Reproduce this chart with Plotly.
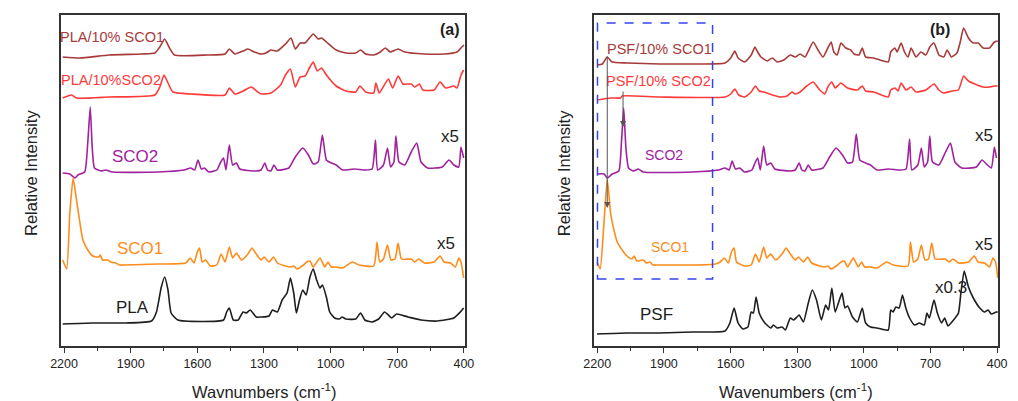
import plotly.graph_objects as go

# ---------------- data (wavenumber cm-1, relative intensity, stacked a.u.) ----------------
TICKS = [2200, 1900, 1600, 1300, 1000, 700, 400]
MINOR_TICKS = [2050, 1750, 1450, 1150, 850, 550]

# ---- panel (a) ----
pla_sco1_w = [2206, 2129, 1997, 1850, 1791, 1769, 1747, 1725, 1703, 1556, 1475, 1456, 1431, 1394, 1372, 1343,
              1313, 1291, 1269, 1240, 1203, 1178, 1159, 1137, 1115, 1078, 1056, 1041, 1019, 975, 931, 887, 865,
              842, 806, 776, 754, 732, 696, 666, 578, 489, 431, 409, 400]
pla_sco1_i = [289, 288, 291, 292, 293, 299, 307, 298, 291, 291, 292, 297, 292, 295, 297, 294,
              292, 293, 296, 295, 302, 308, 297, 303, 303, 312, 307, 308, 304, 296, 293, 293, 296,
              292, 291, 294, 298, 294, 297, 294, 292, 292, 294, 299, 301]

pla_sco2_w = [2206, 2166, 2144, 1997, 1791, 1769, 1750, 1732, 1710, 1630, 1475, 1456, 1431, 1394, 1357, 1328,
              1313, 1269, 1225, 1203, 1181, 1159, 1137, 1115, 1093, 1078, 1060, 1041, 1019, 975, 931, 887, 868,
              842, 806, 796, 781, 740, 721, 696, 674, 637, 622, 600, 585, 534, 507, 482, 445, 431, 413, 401]
pla_sco2_i = [248, 251, 248, 249, 251, 259, 271, 263, 254, 252, 251, 258, 252, 255, 259, 254,
              252, 253, 261, 271, 277, 259, 269, 270, 279, 284, 275, 278, 271, 260, 255, 254, 260,
              254, 253, 263, 253, 267, 258, 270, 262, 262, 259, 262, 256, 256, 264, 258, 260, 258, 271, 276]

sco2_a_w = [2206, 2174, 2151, 2137, 2107, 2093, 2082, 2073, 2063, 2034, 2012, 1982, 1776, 1659, 1630, 1612,
            1597, 1582, 1568, 1548, 1512, 1497, 1482, 1471, 1456, 1441, 1424, 1409, 1335, 1313, 1296, 1284,
            1269, 1255, 1240, 1188, 1159, 1125, 1100, 1078, 1056, 1037, 1019, 997, 975, 946, 894, 842, 813,
            798, 788, 762, 744, 730, 715, 706, 692, 666, 637, 612, 593, 563, 497, 467, 445, 423, 413, 401]
sco2_a_i = [173, 172, 168, 171, 174, 204, 239, 198, 178, 175, 176, 174, 174, 176, 178, 176,
            186, 177, 178, 174, 176, 183, 188, 176, 201, 181, 183, 177, 175, 176, 183, 176,
            175, 181, 176, 178, 189, 198, 191, 182, 184, 211, 186, 183, 181, 176, 177, 176, 177,
            206, 176, 181, 198, 179, 184, 210, 184, 181, 194, 203, 184, 178, 179, 186, 181, 179, 199, 188]

sco1_a_w = [2206, 2188, 2174, 2159, 2144, 2129, 2115, 2093, 2071, 2044, 2037, 2027, 2004, 1990, 1968, 1950,
            1923, 1776, 1652, 1632, 1615, 1600, 1590, 1578, 1563, 1541, 1512, 1493, 1475, 1456, 1441, 1424,
            1401, 1372, 1354, 1335, 1313, 1299, 1277, 1257, 1240, 1203, 1181, 1166, 1151, 1122, 1107, 1093,
            1078, 1048, 1026, 1012, 997, 975, 946, 902, 872, 806, 791, 779, 762, 744, 728, 710, 696, 681,
            637, 622, 604, 578, 534, 507, 489, 460, 438, 423, 413, 401]
sco1_a_i = [86, 77, 133, 168, 146, 124, 106, 96, 90, 89, 91, 86, 86, 84, 83, 81,
            81, 82, 83, 88, 83, 94, 98, 84, 86, 80, 81, 92, 84, 99, 88, 93,
            86, 92, 98, 92, 86, 89, 84, 89, 83, 80, 79, 80, 77, 81, 84, 85,
            79, 88, 79, 84, 79, 79, 78, 84, 81, 80, 104, 84, 87, 101, 86, 87, 103, 87,
            87, 84, 87, 83, 84, 90, 84, 83, 79, 88, 84, 68]

pla_w = [2206, 2071, 1923, 1806, 1784, 1762, 1747, 1732, 1718, 1688, 1482, 1468, 1456, 1438, 1416, 1394,
         1379, 1362, 1335, 1313, 1277, 1262, 1240, 1218, 1196, 1181, 1166, 1154, 1140, 1125, 1110, 1093,
         1078, 1063, 1048, 1037, 1019, 1004, 982, 960, 948, 931, 887, 865, 846, 813, 784, 757, 740, 725,
         703, 651, 593, 519, 445, 416, 401]
pla_i = [22, 23, 23, 25, 34, 59, 69, 56, 33, 26, 26, 34, 38, 26, 26, 34,
         33, 36, 29, 29, 30, 36, 34, 46, 53, 68, 53, 33, 46, 56, 51, 69,
         77, 66, 58, 61, 49, 34, 28, 27, 29, 27, 27, 33, 26, 24, 27, 34, 31, 28,
         32, 29, 26, 25, 28, 34, 38]

# ---- panel (b) ----
psf_sco1_w = [2201, 2177, 2155, 2133, 2066, 1919, 1772, 1625, 1599, 1581, 1566, 1537, 1507, 1490, 1478, 1463,
              1434, 1412, 1390, 1360, 1331, 1309, 1287, 1265, 1228, 1206, 1184, 1162, 1147, 1135, 1120, 1103,
              1081, 1059, 1044, 1022, 1007, 992, 956, 890, 879, 860, 850, 832, 817, 801, 787, 765, 743, 721,
              703, 684, 662, 640, 625, 606, 581, 566, 551, 529, 507, 485, 463, 434, 412, 397]
psf_sco1_i = [281, 282, 289, 284, 283, 282, 282, 283, 288, 295, 288, 284, 291, 299, 294, 289,
              285, 288, 284, 286, 291, 289, 292, 289, 304, 296, 289, 298, 304, 294, 291, 303,
              298, 296, 292, 291, 298, 289, 288, 284, 294, 298, 294, 303, 294, 289, 298, 289, 294, 291,
              299, 303, 291, 289, 296, 289, 293, 304, 318, 308, 303, 303, 298, 298, 304, 305]

psf_sco2_w = [2201, 2140, 2095, 2088, 1919, 1625, 1599, 1581, 1563, 1537, 1507, 1488, 1471, 1449, 1412, 1375,
              1346, 1323, 1309, 1287, 1257, 1228, 1198, 1176, 1162, 1144, 1129, 1103, 1073, 1029, 1007, 992,
              956, 890, 879, 860, 846, 832, 810, 787, 765, 721, 684, 662, 640, 603, 574, 551, 529, 500, 463,
              434, 412, 397]
psf_sco2_i = [246, 248, 248, 250, 249, 249, 252, 257, 251, 249, 254, 260, 255, 254, 251, 249,
              250, 254, 252, 254, 260, 264, 256, 252, 259, 264, 258, 263, 258, 256, 260, 255,
              254, 249, 256, 258, 255, 263, 256, 259, 254, 256, 262, 256, 253, 255, 256, 270, 265, 262, 259,
              259, 260, 260]

sco2_b_w = [2201, 2169, 2155, 2133, 2103, 2091, 2081, 2071, 2059, 2037, 2015, 1993, 1772, 1654, 1625, 1606,
            1593, 1578, 1559, 1537, 1504, 1490, 1478, 1466, 1451, 1437, 1419, 1401, 1331, 1309, 1291, 1279,
            1265, 1250, 1235, 1184, 1154, 1125, 1096, 1073, 1051, 1034, 1018, 992, 970, 941, 890, 838, 810,
            794, 784, 757, 741, 728, 713, 703, 691, 662, 632, 610, 590, 559, 493, 468, 444, 426, 412, 403]
sco2_b_i = [172, 172, 168, 172, 175, 204, 238, 198, 178, 175, 177, 174, 174, 176, 178, 176,
            185, 177, 178, 174, 176, 183, 188, 176, 200, 181, 183, 177, 175, 176, 183, 176,
            175, 181, 176, 178, 189, 198, 191, 183, 184, 212, 186, 183, 181, 176, 177, 176, 177,
            207, 176, 181, 198, 179, 184, 210, 184, 181, 194, 203, 184, 178, 179, 186, 181, 178, 199, 188]

sco1_b_w = [2201, 2187, 2172, 2155, 2140, 2125, 2110, 2088, 2066, 2044, 2034, 2022, 1993, 1978, 1963, 1949,
            1919, 1772, 1669, 1647, 1628, 1610, 1596, 1584, 1573, 1537, 1507, 1488, 1471, 1451, 1437, 1419,
            1397, 1368, 1350, 1331, 1309, 1294, 1272, 1253, 1235, 1198, 1176, 1162, 1147, 1118, 1103, 1088,
            1073, 1047, 1025, 1010, 996, 970, 941, 897, 868, 801, 790, 776, 757, 741, 725, 709, 694, 679,
            632, 617, 599, 574, 529, 503, 485, 456, 434, 419, 407, 397]
sco1_b_i = [84, 77, 116, 167, 133, 116, 104, 96, 90, 87, 90, 85, 86, 83, 84, 81,
            81, 81, 82, 84, 88, 83, 94, 98, 84, 80, 81, 92, 84, 99, 88, 92,
            86, 92, 98, 92, 86, 89, 84, 89, 83, 80, 79, 80, 77, 81, 84, 85,
            79, 88, 79, 84, 79, 79, 78, 84, 81, 80, 104, 84, 87, 101, 86, 87, 103, 87,
            87, 84, 87, 83, 84, 90, 84, 83, 79, 88, 84, 68]

psf_w = [2201, 2066, 1919, 1772, 1625, 1603, 1584, 1566, 1544, 1522, 1507, 1497, 1485, 1471, 1449, 1419,
         1407, 1390, 1368, 1353, 1331, 1316, 1301, 1291, 1272, 1250, 1232, 1213, 1191, 1172, 1159, 1144,
         1129, 1110, 1098, 1085, 1073, 1051, 1029, 1007, 992, 970, 941, 890, 879, 868, 856, 841, 826, 811,
         794, 772, 750, 728, 716, 705, 684, 669, 650, 636, 621, 596, 574, 563, 548, 529, 507, 478, 456,
         441, 426, 404, 397]
psf_i = [12, 13, 13, 14, 15, 23, 38, 23, 17, 19, 34, 33, 49, 33, 24, 18,
         21, 18, 19, 16, 28, 26, 29, 31, 24, 43, 56, 46, 26, 41, 36, 58,
         34, 46, 53, 38, 40, 29, 24, 38, 23, 19, 18, 16, 36, 34, 39, 38, 51, 38,
         28, 21, 23, 21, 33, 28, 46, 33, 23, 28, 20, 26, 33, 53, 75, 59, 48, 38, 34,
         36, 32, 34, 34]

DARKRED = '#a83a3a'
RED = '#ff3a3a'
PURPLE = '#a0229e'
ORANGE = '#ff8c1a'
BLACK = '#1e1e1e'
FONT = 'Arial, Liberation Sans, sans-serif'

# the page body adds an 8 px margin; the figure is sized so the window shows it whole
PAGE = 8
W, H = 1018 - PAGE, 401 - PAGE


def px(v):   # page x pixel -> paper fraction
    return (v - PAGE) / W


def py(v):   # page y pixel -> paper fraction (from bottom)
    return (H - (v - PAGE)) / H


fig = go.Figure()


def add(w, i, color, xa, ya):
    fig.add_trace(go.Scatter(x=w, y=i, mode='lines',
                             line=dict(color=color, width=1.6, shape='spline', smoothing=0.5),
                             xaxis=xa, yaxis=ya, showlegend=False, hoverinfo='skip'))


for w, i, c in [(pla_sco1_w, pla_sco1_i, DARKRED), (pla_sco2_w, pla_sco2_i, RED),
                (sco2_a_w, sco2_a_i, PURPLE), (sco1_a_w, sco1_a_i, ORANGE), (pla_w, pla_i, BLACK)]:
    add(w, i, c, 'x', 'y')
for w, i, c in [(psf_sco1_w, psf_sco1_i, DARKRED), (psf_sco2_w, psf_sco2_i, RED),
                (sco2_b_w, sco2_b_i, PURPLE), (sco1_b_w, sco1_b_i, ORANGE), (psf_w, psf_i, BLACK)]:
    add(w, i, c, 'x2', 'y2')

xcommon = dict(range=[2213, 395], tickmode='array', tickvals=TICKS, ticktext=[str(t) for t in TICKS],
               ticks='outside', ticklen=5, tickwidth=1.2, tickcolor='#333',
               showline=True, linecolor='#333', linewidth=1.5, mirror=True,
               showgrid=False, zeroline=False, tickfont=dict(family=FONT, size=12.5, color='#222'),
               minor=dict(tickmode='array', tickvals=MINOR_TICKS, ticks='outside', ticklen=3,
                          tickwidth=1, tickcolor='#333'))
ycommon = dict(range=[0, 331], showticklabels=False, ticks='', showline=True, linecolor='#333',
               linewidth=1.5, mirror=True, showgrid=False, zeroline=False)

fig.update_layout(
    width=W, height=H, margin=dict(l=0, r=0, t=0, b=0),
    paper_bgcolor='white', plot_bgcolor='white',
    font=dict(family=FONT, color='#222'),
    xaxis=dict(domain=[px(51), px(463)], anchor='y', **xcommon),
    yaxis=dict(domain=[py(346), py(15)], anchor='x', **ycommon),
    xaxis2=dict(domain=[px(595), px(1007)], anchor='y2', **xcommon),
    yaxis2=dict(domain=[py(346), py(15)], anchor='x2', **ycommon),
)

ann = []


def label(text, w, i, color, size, xr='x', yr='y', bold=False):
    ann.append(dict(text=f'<b>{text}</b>' if bold else text, x=w, y=i, xref=xr, yref=yr,
                    showarrow=False, font=dict(family=FONT, size=size, color=color),
                    xanchor='center', yanchor='middle'))


# panel (a)
label('PLA/10% SCO1', 1986, 309, DARKRED, 14.5)
label('PLA/10%SCO2', 1990, 266, RED, 14.5)
label('SCO2', 1882, 190, PURPLE, 17)
label('x5', 464, 210, BLACK, 17)
label('SCO1', 1856, 98, ORANGE, 17)
label('x5', 482, 103, BLACK, 17)
label('PLA', 1891, 39, BLACK, 17)
label('(a)', 464, 316, BLACK, 16, bold=True)
# panel (b)
label('PSF/10% SCO1', 1919, 297, DARKRED, 14.5, 'x2', 'y2')
label('PSF/10% SCO2', 1924, 265, RED, 14.5, 'x2', 'y2')
label('SCO2', 1899, 191, PURPLE, 14, 'x2', 'y2')
label('SCO1', 1871, 99, ORANGE, 14, 'x2', 'y2')
label('PSF', 1933, 32, BLACK, 17, 'x2', 'y2')
label('x5', 461, 211, BLACK, 17, 'x2', 'y2')
label('x5', 458, 102, BLACK, 17, 'x2', 'y2')
label('x0.3', 608, 59, BLACK, 17, 'x2', 'y2')
label('(b)', 656, 316, BLACK, 16, 'x2', 'y2', bold=True)

# axis titles
for xc, txt in [(257.5, 'Wavnumbers (cm<sup>-1</sup>)'), (800.3, 'Wavenumbers (cm<sup>-1</sup>)')]:
    ann.append(dict(text=txt, x=px(xc), y=py(391), xref='paper', yref='paper', showarrow=False,
                    xanchor='center', yanchor='middle', font=dict(family=FONT, size=16.5, color='#222')))
for xc in [9, 553]:
    ann.append(dict(text='Relative Intensity', x=px(xc), y=py(173), xref='paper', yref='paper',
                    showarrow=False, textangle=-90, xanchor='left', yanchor='middle',
                    font=dict(family=FONT, size=16.5, color='#222')))

# arrows in panel (b)
for w, y_tip, y_tail in [(2155, 138, 291), (2084, 219, 256)]:
    ann.append(dict(x=w, y=y_tip, ax=w, ay=y_tail, xref='x2', yref='y2', axref='x2', ayref='y2',
                    text='', showarrow=True, arrowhead=2, arrowsize=1.2, arrowwidth=1,
                    arrowcolor='#555'))

fig.update_layout(annotations=ann)

# dashed highlight box in panel (b)
fig.add_shape(type='rect', xref='x2', yref='y2', x0=2199, x1=1681, y0=67, y1=323,
              line=dict(color='#3344ee', width=1.5, dash='dash'), fillcolor='rgba(0,0,0,0)')

fig.write_html('out.html')
